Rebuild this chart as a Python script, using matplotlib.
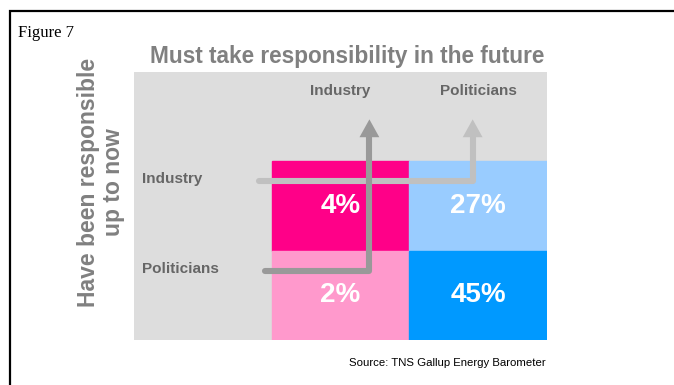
import matplotlib.pyplot as plt
import numpy as np

# dados
linhas = ["Industry", "Politicians"]          # have been responsible up to now
colunas = ["Industry", "Politicians"]         # must take responsibility in the future
valores = [[4, 27],
           [2, 45]]
cores = [["#FF0088", "#99CCFF"],
         ["#FF99CC", "#0099FF"]]

titulo = "Must take responsibility in the future"
rotulo_y = "Have been responsible\nup to now"
fonte = "Source: TNS Gallup Energy Barometer"

CINZA_TXT = "#808080"
ROTULO = "#666666"
FUNDO = "#DDDDDD"

plt.rcParams["font.family"] = ["Liberation Sans", "DejaVu Sans"]

fig = plt.figure(figsize=(6.74, 3.85), dpi=100)

# moldura da figura
fig.add_artist(plt.Rectangle((10 / 674, -0.05), 1.1, (385 - 11) / 385 + 0.05,
                             transform=fig.transFigure, fill=False,
                             edgecolor="black", linewidth=1.6))

ax = fig.add_axes([134 / 674, 45 / 385, 413 / 674, 268 / 385])
ax.set_xlim(-1, 2)
ax.set_ylim(2, -1)
ax.axis("off")
ax.add_patch(plt.Rectangle((-1, -1), 3, 3, color=FUNDO, zorder=0))

for i, linha in enumerate(linhas):
    for j, col in enumerate(colunas):
        ax.add_patch(plt.Rectangle((j, i), 1, 1, color=cores[i][j], zorder=1))
        ax.text(j + 0.5, i + 0.5, f"{valores[i][j]}%", color="white",
                fontsize=20, fontweight="bold", ha="center", va="center", zorder=5)

for j, col in enumerate(colunas):
    ax.text(j + 0.5, -0.79, col, color=ROTULO, fontsize=11, fontweight="bold",
            ha="center", va="center")
for i, linha in enumerate(linhas):
    ax.text(-0.94, i + 0.2, linha, color=ROTULO, fontsize=11, fontweight="bold",
            ha="left", va="center")


# setas em L: da linha (quem foi responsável) até a coluna (quem deve ser)
def seta(ax, x0, y0, xc, cor, z):
    topo = -0.27
    ax.plot([x0, xc, xc], [y0, y0, topo], color=cor, linewidth=4.4,
            solid_joinstyle="round", solid_capstyle="round", zorder=z)
    ax.fill([xc - 0.072, xc + 0.072, xc], [topo, topo, -0.47], color=cor,
            linewidth=0, zorder=z)


seta(ax, -0.09, 0 + 0.22, 1 + 0.46, "#C0C0C0", 3)
seta(ax, -0.05, 1 + 0.23, 0 + 0.71, "#999999", 4)

fig.text(347 / 674, 1 - 57 / 385, titulo, color=CINZA_TXT, fontsize=16.3,
         fontweight="bold", ha="center", va="center")
fig.text(101 / 674, 1 - 182 / 385, rotulo_y, color=CINZA_TXT, fontsize=16.5,
         fontweight="bold", ha="center", va="center", rotation=90,
         multialignment="center", linespacing=1.1)
fig.text(18 / 674, 1 - 33 / 385, "Figure 7", family="Liberation Serif",
         fontsize=12, ha="left", va="center")
fig.text(546 / 674, 1 - 363 / 385, fonte, fontsize=8.2, ha="right", va="center")

fig.savefig("out.png", dpi=100)
